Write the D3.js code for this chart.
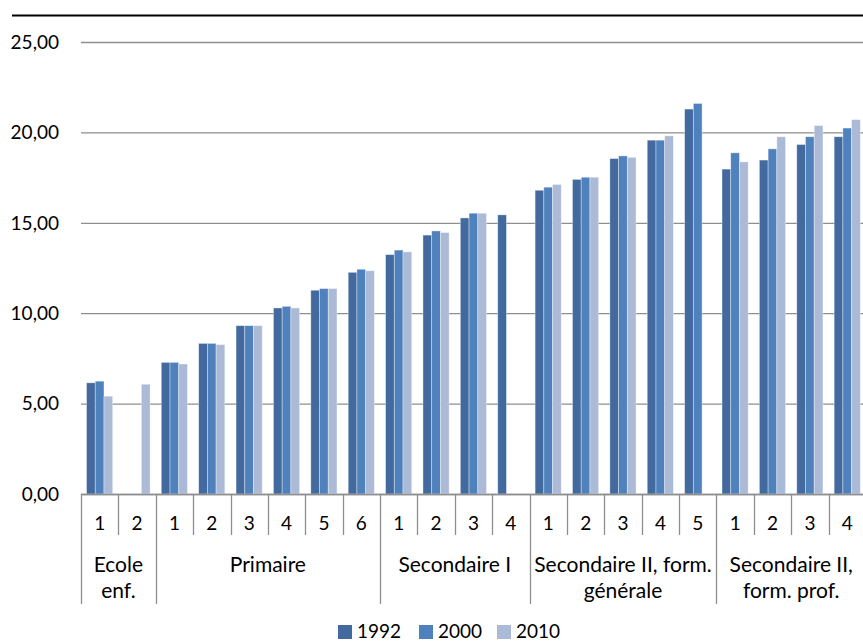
<!DOCTYPE html>
<html>
<head>
<meta charset="utf-8">
<script src="https://cdn.jsdelivr.net/npm/d3@7"></script>
<style>
  html, body { margin: 0; padding: 0; background: #ffffff; }
  svg { display: block; }
  text { font-family: Lato, "Open Sans", sans-serif; fill: #000; }
</style>
</head>
<body>
<svg id="chart" width="863" height="642"></svg>
<script>
// ---- data ----
const itemLabels = ["1","2","1","2","3","4","5","6","1","2","3","4","1","2","3","4","5","1","2","3","4"];
const itemGroup  = [0,0,1,1,1,1,1,1,2,2,2,2,3,3,3,3,3,4,4,4,4];
const groupLabels = [
  ["Ecole", "enf."],
  ["Primaire"],
  ["Secondaire I"],
  ["Secondaire II, form.", "générale"],
  ["Secondaire II,", "form. prof."]
];
const seriesNames = ["1992", "2000", "2010"];
const v1992 = [6.15, null, 7.28, 8.33, 9.31, 10.29, 11.27, 12.26, 13.24, 14.32, 15.27, 15.44, 16.80, 17.40, 18.55, 19.57, 21.29, 17.97, 18.47, 19.33, 19.76];
const v2000 = [6.24, null, 7.28, 8.33, 9.31, 10.38, 11.36, 12.43, 13.49, 14.55, 15.53, null, 16.97, 17.52, 18.70, 19.57, 21.60, 18.87, 19.09, 19.76, 20.24];
const v2010 = [5.41, 6.07, 7.19, 8.26, 9.31, 10.29, 11.36, 12.35, 13.39, 14.46, 15.53, null, 17.12, 17.52, 18.62, 19.81, null, 18.37, 19.76, 20.38, 20.71];
const yTicks = [0, 5, 10, 15, 20, 25];
const colors = ["#426a9e", "#4f81bd", "#aabad7"];

// ---- layout ----
const svg = d3.select("#chart");
const pLeft = 81, pRight = 866, pTop = 42, pBottom = 494;
const gridColor = "#8e8e8e";

const x0 = d3.scaleBand().domain(d3.range(itemLabels.length)).range([pLeft, pRight]).padding(0);
const bw = x0.bandwidth();
const x1 = d3.scaleBand().domain(seriesNames).range([bw * 0.148, bw * 0.848]).padding(0);
const y = d3.scaleLinear().domain([0, 25]).range([pBottom, pTop]);
const fmt = v => d3.format(".2f")(v).replace(".", ",");

// top rule
svg.append("line").attr("x1", 12).attr("x2", 863).attr("y1", 15.5).attr("y2", 15.5)
  .attr("stroke", "#000").attr("stroke-width", 2);

// gridlines
svg.append("g").selectAll("line").data(yTicks).join("line")
  .attr("x1", pLeft).attr("x2", pRight)
  .attr("y1", d => y(d) + 0.5).attr("y2", d => y(d) + 0.5)
  .attr("stroke", gridColor).attr("stroke-width", 1.3);

// y labels
svg.append("g").selectAll("text").data(yTicks).join("text")
  .attr("x", 59).attr("y", d => y(d)).attr("dy", "0.36em")
  .attr("text-anchor", "end").attr("font-size", 19)
  .text(fmt);

// bars
const series = [v1992, v2000, v2010];
const barG = svg.append("g");
series.forEach((vals, si) => {
  const pts = vals.map((v, i) => ({v, i})).filter(d => d.v != null);
  barG.append("g").selectAll("rect").data(pts).join("rect")
    .attr("x", d => x0(d.i) + x1(seriesNames[si]))
    .attr("width", x1.bandwidth())
    .attr("y", d => y(d.v))
    .attr("height", d => y(0) - y(d.v))
    .attr("fill", colors[si])
    .attr("stroke", "rgba(255,255,255,0.45)")
    .attr("stroke-width", 0.8);
});

// axis line
svg.append("line").attr("x1", pLeft).attr("x2", pRight)
  .attr("y1", pBottom + 0.5).attr("y2", pBottom + 0.5)
  .attr("stroke", gridColor).attr("stroke-width", 1.3);

// category separators
const groupStarts = d3.range(itemLabels.length).filter(i => i === 0 || itemGroup[i] !== itemGroup[i - 1]);
const axisG = svg.append("g");
d3.range(itemLabels.length + 1).forEach(i => {
  const xx = i < itemLabels.length ? x0(i) : pRight;
  const isGroup = i === itemLabels.length || groupStarts.includes(i);
  axisG.append("line")
    .attr("x1", Math.round(xx) + 0.5).attr("x2", Math.round(xx) + 0.5)
    .attr("y1", pBottom).attr("y2", isGroup ? 604 : 535)
    .attr("stroke", gridColor).attr("stroke-width", 1.3);
});

// item labels
axisG.selectAll("text.item").data(itemLabels).join("text")
  .attr("class", "item")
  .attr("x", (d, i) => x0(i) + bw / 2).attr("y", 530)
  .attr("text-anchor", "middle").attr("font-size", 19)
  .text(d => d);

// group labels
groupLabels.forEach((lines, g) => {
  const idx = d3.range(itemLabels.length).filter(i => itemGroup[i] === g);
  const gx0 = x0(idx[0]);
  const gx1 = x0(idx[idx.length - 1]) + bw;
  const cx = (gx0 + gx1) / 2;
  lines.forEach((ln, li) => {
    axisG.append("text")
      .attr("x", cx).attr("y", 572 + li * 26)
      .attr("text-anchor", "middle").attr("font-size", 21)
      .text(ln);
  });
});

// legend
const legendX = [338, 419, 497];
const lg = svg.append("g");
seriesNames.forEach((s, i) => {
  lg.append("rect").attr("x", legendX[i]).attr("y", 625).attr("width", 14).attr("height", 14)
    .attr("fill", colors[i]);
  lg.append("text").attr("x", legendX[i] + 19).attr("y", 638)
    .attr("font-size", 19).text(s);
});
</script>
</body>
</html>
